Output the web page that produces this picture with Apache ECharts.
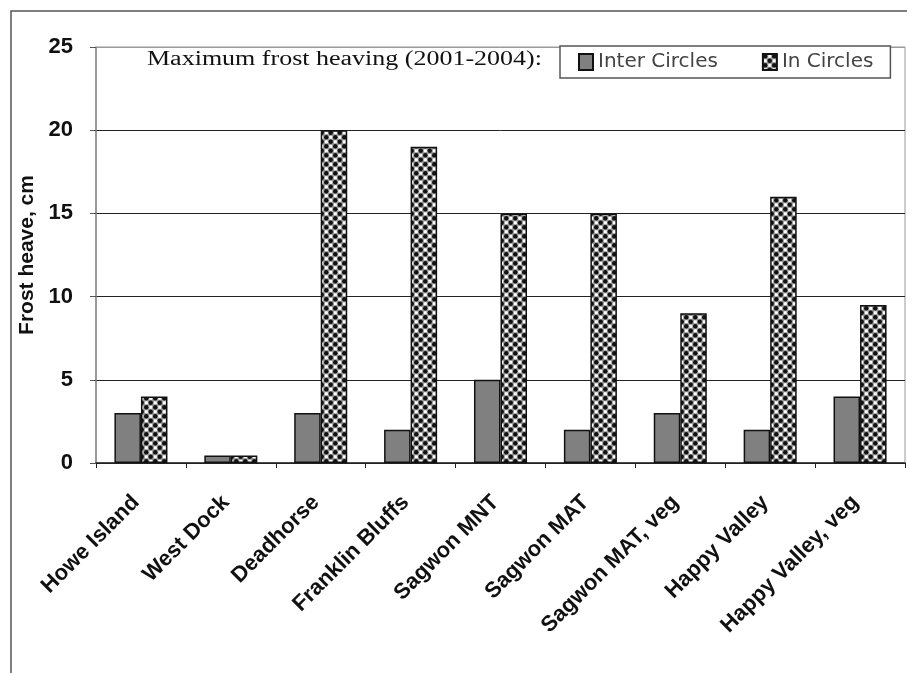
<!DOCTYPE html>
<html>
<head>
<meta charset="utf-8">
<script src="https://cdn.jsdelivr.net/npm/echarts@6/dist/echarts.min.js"></script>
<style>html,body{margin:0;padding:0;background:#fff;}#c{width:907px;height:673px;}</style>
</head>
<body>
<div id="c"></div>
<script>
var categories = ['Howe Island','West Dock','Deadhorse','Franklin Bluffs','Sagwon MNT','Sagwon MAT','Sagwon MAT, veg','Happy Valley','Happy Valley, veg'];
var interCircles = [3, 0.45, 3, 2, 5, 2, 3, 2, 4];
var inCircles = [4, 0.45, 20, 19, 15, 15, 9, 16, 9.5];
var yTicks = [0, 5, 10, 15, 20, 25];
var seriesNames = ['Inter Circles', 'In Circles'];
var titleText = 'Maximum frost heaving (2001-2004):';
var yAxisName = 'Frost heave, cm';

function makePattern() {
  var c = document.createElement('canvas');
  c.width = 9; c.height = 9;
  var g = c.getContext('2d');
  g.fillStyle = '#9a9a9a';
  g.fillRect(0, 0, 9, 9);
  g.fillStyle = '#111';
  g.beginPath(); g.arc(2.25, 2.25, 2.2, 0, Math.PI * 2); g.fill();
  g.beginPath(); g.arc(6.75, 6.75, 2.2, 0, Math.PI * 2); g.fill();
  g.fillStyle = '#fff';
  g.fillRect(5.3, 0.9, 2.9, 2.9);
  g.fillRect(0.9, 5.3, 2.9, 2.9);
  return c;
}
var pat = { image: makePattern(), repeat: 'repeat' };

var chart = echarts.init(document.getElementById('c'));
chart.setOption({
  animation: false,
  backgroundColor: '#fff',
  grid: { left: 96, top: 47, right: 2, bottom: 210, show: true, borderColor: '#999', borderWidth: 1 },
  graphic: [
    { type: 'rect', shape: { x: 11, y: 11, width: 1000, height: 1000 }, style: { fill: null, stroke: '#555', lineWidth: 1.5 }, z: 0 },
    { type: 'text', x: 147, y: 50, scaleX: 1.3, scaleY: 1, style: { text: titleText, font: '20px "Liberation Serif", "Times New Roman", serif', fill: '#111' }, z: 10 }
  ],
  legend: {
    left: 560, top: 46,
    data: seriesNames,
    itemWidth: 14, itemHeight: 16, itemGap: 44,
    padding: [6, 17, 6, 18],
    borderColor: '#555', borderWidth: 1.5,
    backgroundColor: '#fff',
    icon: 'rect',
    textStyle: { fontFamily: '"DejaVu Sans", Verdana, sans-serif', fontSize: 20, color: '#444' }
  },
  xAxis: {
    type: 'category',
    data: categories,
    axisLine: { lineStyle: { color: '#222', width: 1.5 } },
    axisTick: { show: true, length: 5, lineStyle: { color: '#222' } },
    axisLabel: { rotate: 45, interval: 0, margin: 31, padding: [0, 7, 0, 0], fontFamily: 'Liberation Sans, Arial, sans-serif', fontWeight: 'bold', fontSize: 22, color: '#111' }
  },
  yAxis: {
    type: 'value', min: 0, max: 25, interval: 5,
    name: yAxisName, nameLocation: 'middle', nameGap: 51,
    nameTextStyle: { fontFamily: 'Liberation Sans, Arial, sans-serif', fontWeight: 'bold', fontSize: 21, color: '#111' },
    axisLine: { show: true, lineStyle: { color: '#888', width: 1.5 } },
    axisTick: { show: true, length: 6, lineStyle: { color: '#555' } },
    axisLabel: { margin: 23, fontFamily: 'Liberation Sans, Arial, sans-serif', fontWeight: 'bold', fontSize: 22, color: '#111',
      formatter: function (v) { return yTicks.indexOf(v) >= 0 ? String(v) : ''; } },
    splitLine: { lineStyle: { color: ['#222', '#222', '#222', '#222', '#222', '#999'], width: 1 } }
  },
  series: [
    { name: seriesNames[0], type: 'bar', data: interCircles, barGap: '0%', barCategoryGap: '41%',
      itemStyle: { color: '#808080', borderColor: '#111', borderWidth: 1.5 } },
    { name: seriesNames[1], type: 'bar', data: inCircles, barGap: '0%', barCategoryGap: '41%',
      itemStyle: { color: pat, borderColor: '#111', borderWidth: 1.5 } }
  ]
});
</script>
</body>
</html>
